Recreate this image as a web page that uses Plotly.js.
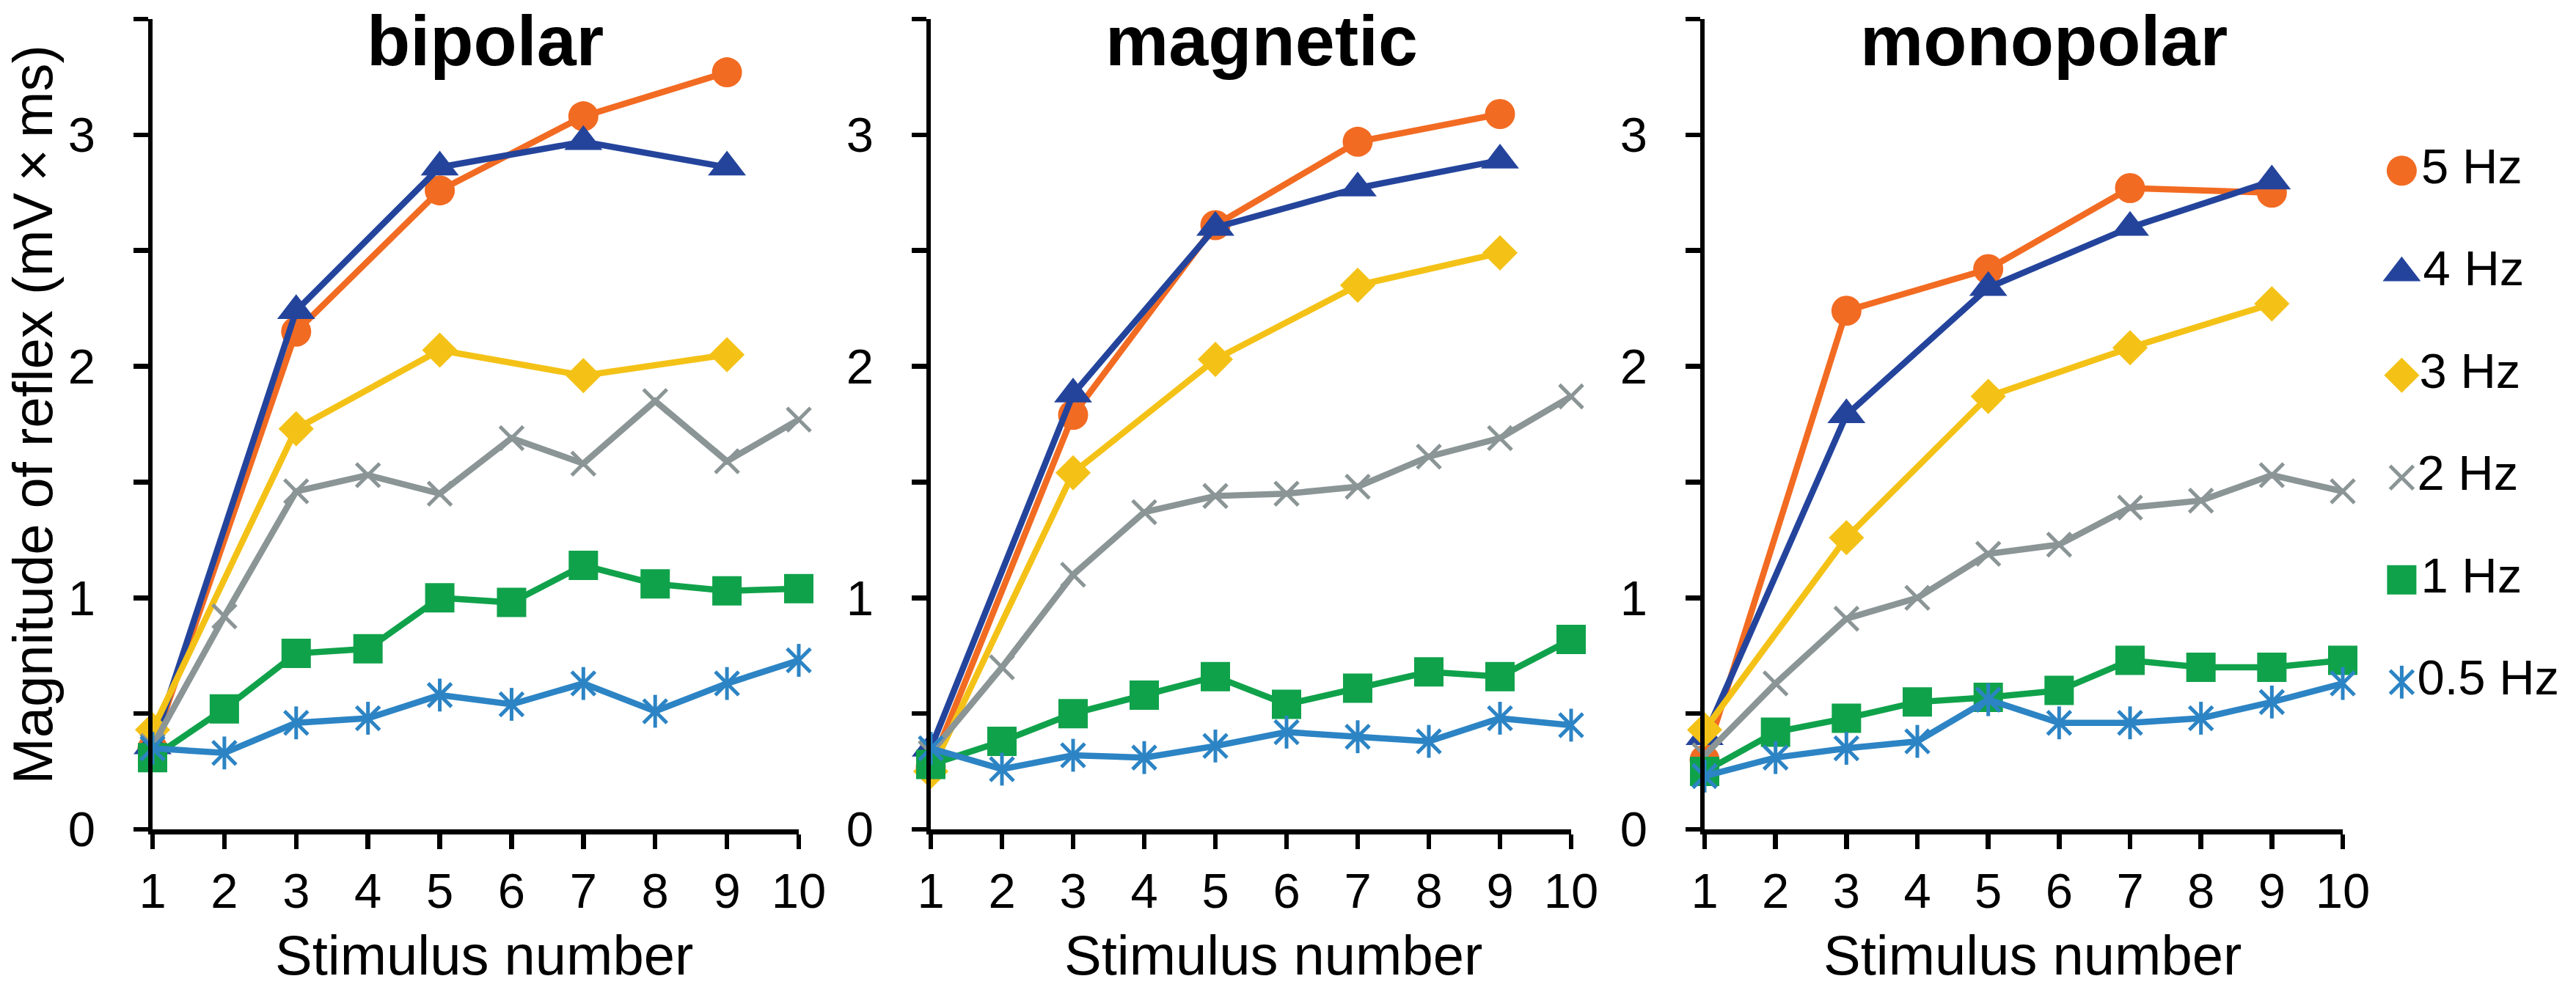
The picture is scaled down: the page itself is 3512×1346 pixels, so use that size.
<!DOCTYPE html>
<html>
<head>
<meta charset="utf-8">
<script src="https://cdn.plot.ly/plotly-3.0.1.min.js"></script>
<style>html,body{margin:0;padding:0;background:#fff}</style>
</head>
<body>
<div id="chart" style="width:3512px;height:1346px"></div>
<script>
'use strict';
/* x values: stimulus number */
var stim_all = [1, 2, 3, 4, 5, 6, 7, 8, 9, 10];
var stim_odd = [1, 3, 5, 7, 9];

var panel_titles = ['bipolar', 'magnetic', 'monopolar'];
var series_names = ['5 Hz', '4 Hz', '3 Hz', '2 Hz', '1 Hz', '0.5 Hz'];

var y_ticks = [0, 0.5, 1, 1.5, 2, 2.5, 3, 3.5];
var y_ticktext = ['0', '', '1', '', '2', '', '3', ''];

/* bipolar */
var bip_5hz = [0.35, 2.15, 2.76, 3.08, 3.27];
var bip_4hz = [0.36, 2.24, 2.86, 2.97, 2.86];
var bip_3hz = [0.43, 1.73, 2.07, 1.96, 2.05];
var bip_2hz = [0.36, 0.92, 1.46, 1.53, 1.45, 1.69, 1.58, 1.85, 1.59, 1.77];
var bip_1hz = [0.31, 0.52, 0.76, 0.78, 1.00, 0.98, 1.14, 1.06, 1.03, 1.04];
var bip_05hz = [0.35, 0.33, 0.46, 0.48, 0.58, 0.54, 0.63, 0.51, 0.63, 0.73];

/* magnetic */
var mag_5hz = [0.27, 1.79, 2.61, 2.97, 3.09];
var mag_4hz = [0.35, 1.88, 2.60, 2.77, 2.89];
var mag_3hz = [0.25, 1.54, 2.03, 2.35, 2.49];
var mag_2hz = [0.33, 0.70, 1.10, 1.37, 1.44, 1.45, 1.48, 1.61, 1.69, 1.87];
var mag_1hz = [0.28, 0.38, 0.50, 0.58, 0.66, 0.54, 0.61, 0.68, 0.66, 0.82];
var mag_05hz = [0.35, 0.26, 0.32, 0.31, 0.36, 0.42, 0.40, 0.38, 0.48, 0.45];

/* monopolar */
var mono_5hz = [0.30, 2.24, 2.42, 2.77, 2.75];
var mono_4hz = [0.40, 1.79, 2.34, 2.60, 2.80];
var mono_3hz = [0.43, 1.26, 1.87, 2.08, 2.27];
var mono_2hz = [0.32, 0.63, 0.91, 1.00, 1.19, 1.23, 1.39, 1.42, 1.53, 1.46];
var mono_1hz = [0.25, 0.42, 0.48, 0.55, 0.57, 0.60, 0.73, 0.70, 0.70, 0.73];
var mono_05hz = [0.23, 0.31, 0.35, 0.38, 0.56, 0.46, 0.46, 0.48, 0.55, 0.63];

var W = 3512, H = 1346;
function px(x) { return x / W; }
function py(y) { return 1 - y / H; }

var FONT = 'Liberation Sans, Arial, sans-serif';

var colors = ['#F26B22', '#24449C', '#F4C217', '#8B9595', '#10A24B', '#2C84C4'];
var symbols = ['circle', 'triangle-up', 'diamond', 'x-thin-open', 'square', 'x-thin-open'];
var sizes = [41, 45, 37, 32, 40, 32];
var LW = 8.5;

var panel_data = [
  [bip_5hz, bip_4hz, bip_3hz, bip_2hz, bip_1hz, bip_05hz],
  [mag_5hz, mag_4hz, mag_3hz, mag_2hz, mag_1hz, mag_05hz],
  [mono_5hz, mono_4hz, mono_3hz, mono_2hz, mono_1hz, mono_05hz]
];

function markerFor(i) {
  var m = {symbol: symbols[i], size: sizes[i], color: colors[i]};
  if (symbols[i].indexOf('open') > -1) {
    m.line = {color: colors[i], width: 5};
  }
  return m;
}
// vertical stroke laid over the x so the 0.5 Hz marker becomes an asterisk
function barMarker(i) {
  return {symbol: 'line-ns-open', size: sizes[i], color: colors[i],
          line: {color: colors[i], width: 5}};
}

var traces = [];
panel_data.forEach(function (series, p) {
  var ax = p === 0 ? '' : String(p + 1);
  series.forEach(function (ys, i) {
    var xs = ys.length === 5 ? stim_odd : stim_all;
    traces.push({
      x: xs, y: ys, xaxis: 'x' + ax, yaxis: 'y' + ax,
      type: 'scatter', mode: 'lines+markers', showlegend: false,
      cliponaxis: false, hoverinfo: 'skip',
      line: {color: colors[i], width: LW},
      marker: markerFor(i)
    });
    if (i === 5) {
      traces.push({
        x: xs, y: ys, xaxis: 'x' + ax, yaxis: 'y' + ax,
        type: 'scatter', mode: 'markers', showlegend: false,
        cliponaxis: false, hoverinfo: 'skip',
        marker: barMarker(i)
      });
    }
  });
});

/* legend drawn on its own hidden axes so the symbols can be full size */
series_names.forEach(function (name, i) {
  traces.push({
    x: [0.1], y: [i], xaxis: 'x4', yaxis: 'y4',
    type: 'scatter', mode: 'markers+text', showlegend: false,
    cliponaxis: false, hoverinfo: 'skip',
    text: [name], textposition: 'middle right',
    textfont: {family: FONT, size: 67, color: '#000'},
    marker: markerFor(i)
  });
  if (i === 5) {
    traces.push({
      x: [0.1], y: [i], xaxis: 'x4', yaxis: 'y4',
      type: 'scatter', mode: 'markers', showlegend: false,
      cliponaxis: false, hoverinfo: 'skip',
      marker: barMarker(i)
    });
  }
});

var x_domains = [[px(208), px(1089)], [px(1269), px(2142)], [px(2324), px(3194)]];
var y_domain = [py(1131), py(26)];

function xAxis(p) {
  return {
    domain: x_domains[p], anchor: p === 0 ? 'y' : 'y' + (p + 1),
    range: [1, 10], tickmode: 'array', tickvals: stim_all,
    ticks: 'outside', ticklen: 20, tickwidth: 6.5, tickcolor: '#000',
    showline: true, linewidth: 6.5, linecolor: '#000',
    showgrid: false, zeroline: false, ticklabelstandoff: 0,
    tickfont: {family: FONT, size: 67, color: '#000'}, fixedrange: true
  };
}
function yAxis(p) {
  return {
    domain: y_domain, anchor: p === 0 ? 'x' : 'x' + (p + 1),
    range: [0, 3.5], tickmode: 'array', tickvals: y_ticks, ticktext: y_ticktext,
    ticks: 'outside', ticklen: 20, tickwidth: 6.5, tickcolor: '#000',
    showline: true, linewidth: 6.5, linecolor: '#000',
    showgrid: false, zeroline: false, ticklabelstandoff: 38,
    tickfont: {family: FONT, size: 67, color: '#000'}, fixedrange: true
  };
}

var title_x = [661, 1720, 2786];
var xtitle_x = [660, 1736, 2771];

var annotations = [];
panel_titles.forEach(function (t, p) {
  annotations.push({
    text: '<b>' + t + '</b>', x: px(title_x[p]), y: 1,
    xref: 'paper', yref: 'paper', xanchor: 'center', yanchor: 'top',
    borderpad: 0, showarrow: false, font: {family: FONT, size: 97, color: '#000'}
  });
  annotations.push({
    text: 'Stimulus number', x: px(xtitle_x[p]), y: 0,
    xref: 'paper', yref: 'paper', xanchor: 'center', yanchor: 'bottom',
    borderpad: 0, showarrow: false, font: {family: FONT, size: 76, color: '#000'}
  });
});
annotations.push({
  text: 'Magnitude of reflex (mV\u2009\u00d7\u2009ms)', textangle: -90,
  x: 0, y: py(566), xref: 'paper', yref: 'paper',
  xanchor: 'left', yanchor: 'middle', borderpad: 0,
  showarrow: false, font: {family: FONT, size: 76, color: '#000'}
});

var layout = {
  width: W, height: H,
  margin: {l: 0, r: 0, t: 0, b: 0},
  paper_bgcolor: '#fff', plot_bgcolor: 'rgba(0,0,0,0)',
  showlegend: false,
  xaxis: xAxis(0), yaxis: yAxis(0),
  xaxis2: xAxis(1), yaxis2: yAxis(1),
  xaxis3: xAxis(2), yaxis3: yAxis(2),
  xaxis4: {domain: [px(3248), 1], range: [0, 1], visible: false, fixedrange: true},
  yaxis4: {domain: [py(1000), py(163)], range: [5.5, -0.5], visible: false, fixedrange: true},
  annotations: annotations
};

Plotly.newPlot('chart', traces, layout, {displayModeBar: false, staticPlot: true});
</script>
</body>
</html>
